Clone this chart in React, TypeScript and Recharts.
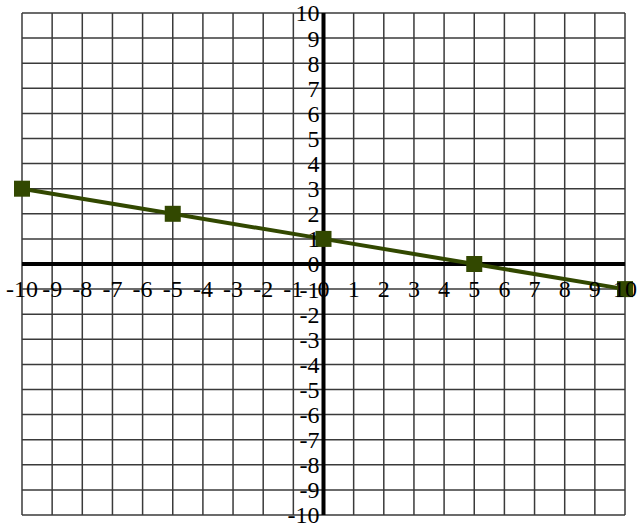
import React from "react";
import { LineChart, Line, XAxis, YAxis, CartesianGrid, ReferenceLine } from "recharts";

// Points of the line y = -x/5 + 1
const X_VALUES = [-10, -5, 0, 5, 10];
const Y_VALUES = [3, 2, 1, 0, -1];

// Grid ticks, one per unit
const X_TICKS = [-10, -9, -8, -7, -6, -5, -4, -3, -2, -1, 0, 1, 2, 3, 4, 5, 6, 7, 8, 9, 10];
const Y_TICKS = [-10, -9, -8, -7, -6, -5, -4, -3, -2, -1, 0, 1, 2, 3, 4, 5, 6, 7, 8, 9, 10];

const data = X_VALUES.map((x, i) => ({ x, y: Y_VALUES[i] }));

const W = 638;
const H = 529;
const MARGIN = { top: 13, right: 13, bottom: 14, left: 22 };
// domains are symmetric, so the axes cross in the middle of the plot
const ZERO_X = MARGIN.left + (W - MARGIN.left - MARGIN.right) / 2;
const ZERO_Y = MARGIN.top + (H - MARGIN.top - MARGIN.bottom) / 2;

const LINE_COLOR = "#324800";
const FONT = "'Liberation Serif', 'Times New Roman', serif";

const XTick = (props: any) => {
    const { x, payload } = props;
    return (
        <text x={x} y={ZERO_Y + 33} textAnchor="middle" fontFamily={FONT} fontSize={24} fill="#000">
            {payload.value}
        </text>
    );
};

const YTick = (props: any) => {
    const { y, payload } = props;
    return (
        <text x={ZERO_X - 4} y={y} dy="0.35em" textAnchor="end" fontFamily={FONT} fontSize={24} fill="#000">
            {payload.value}
        </text>
    );
};

const SquareDot = (props: any) => {
    const { cx, cy, index } = props;
    return <rect key={`dot-${index}`} x={cx - 8} y={cy - 8} width={16} height={16} fill={LINE_COLOR} />;
};

export default function App() {
    return (
        <div style={{ position: "absolute", left: 0, top: 0, width: W, height: H, background: "#fff" }}>
            <LineChart width={W} height={H} data={data} margin={MARGIN}>
                <CartesianGrid stroke="#3a3a3a" strokeWidth={1.5} />
                <XAxis
                    dataKey="x"
                    type="number"
                    domain={[-10, 10]}
                    ticks={X_TICKS}
                    interval={0}
                    mirror
                    axisLine={false}
                    tickLine={false}
                    tick={XTick}
                />
                <YAxis
                    type="number"
                    domain={[-10, 10]}
                    ticks={Y_TICKS}
                    interval={0}
                    mirror
                    axisLine={false}
                    tickLine={false}
                    tick={YTick}
                />
                <ReferenceLine y={0} stroke="#000" strokeWidth={4} />
                <ReferenceLine x={0} stroke="#000" strokeWidth={4} />
                <Line
                    dataKey="y"
                    stroke={LINE_COLOR}
                    strokeWidth={4}
                    dot={SquareDot}
                    activeDot={false}
                    isAnimationActive={false}
                />
            </LineChart>
        </div>
    );
}
